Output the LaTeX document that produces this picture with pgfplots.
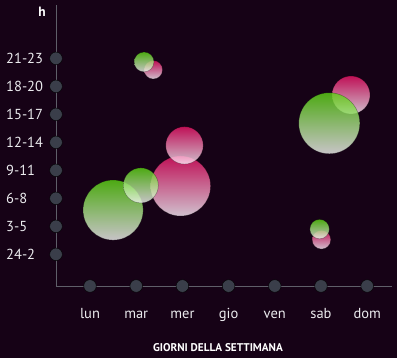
\documentclass[border=0pt]{standalone}
\usepackage{pgfplots}
\usepackage{pgfplotstable}
\pgfplotsset{compat=1.18}
\usepackage{fontspec}
\setmainfont{PT Sans}
\definecolor{bg}{RGB}{22,2,22}
\definecolor{axc}{RGB}{95,95,105}
\definecolor{dotc}{RGB}{58,62,74}
\definecolor{gtop}{RGB}{92,212,20}
\definecolor{gbot}{RGB}{244,245,244}
\definecolor{ptop}{RGB}{234,22,104}
\definecolor{pbot}{RGB}{255,240,252}
\definecolor{txt}{RGB}{235,235,238}
\pgfdeclareplotmark{empty}{}
\pgfplotstableread{
x y r
1.96 2.44 30
2.045 3.89 18.7
1.37 6.59 9.2
5.65 5.69 19
5.01 0.52 9.3
}\pinktab
\pgfplotstableread{
x y r
0.50 1.58 30
1.10 2.46 17.5
1.17 6.87 9.9
5.18 4.68 30.5
4.97 0.90 9.7
}\greentab
\begin{document}
\begin{tikzpicture}
\fill[bg] (0,0) rectangle (397pt,358pt);
\useasboundingbox (0,0) rectangle (397pt,358pt);
\begin{axis}[
  at={(56pt,72pt)}, anchor=south west,
  scale only axis, width=336pt, height=281pt,
  xmin=-0.736, xmax=6.537, ymin=-1.132, ymax=8.904,
  axis x line=bottom, axis y line=left,
  axis line style={-, draw=axc, line width=0.8pt},
  clip=false,
  xtick={0,...,6}, xticklabels={lun,mar,mer,gio,ven,sab,dom},
  ytick={0,...,7}, yticklabels={24-2,3-5,6-8,9-11,12-14,15-17,18-20,21-23},
  major tick length=0pt,
  tick style={draw=none},
  ticklabel style={font=\fontsize{14.5}{16}\selectfont, text=txt},
  yticklabel style={anchor=west, inner sep=0pt, xshift=-50pt},
  xticklabel style={anchor=base, inner sep=0pt, yshift=-33pt},
  xlabel={GIORNI DELLA SETTIMANA},
  xlabel style={at={(axis description cs:0.482,-0.2196)}, anchor=center, font=\bfseries\fontsize{11.2}{12}\selectfont, text=white},
  ylabel={h},
  ylabel style={rotate=-90, at={(axis description cs:-0.0417,0.975)}, anchor=center, font=\bfseries\fontsize{13.5}{14}\selectfont, text=white},
]
\addplot[only marks, mark=*, mark size=6.3pt, mark options={draw=none, fill=dotc}]
  coordinates {(0,-1.132)(1,-1.132)(2,-1.132)(3,-1.132)(4,-1.132)(5,-1.132)(6,-1.132)};
\addplot[only marks, mark=*, mark size=6.3pt, mark options={draw=none, fill=dotc}]
  coordinates {(-0.736,0)(-0.736,1)(-0.736,2)(-0.736,3)(-0.736,4)(-0.736,5)(-0.736,6)(-0.736,7)};
\addplot[scatter, only marks, mark=empty,
  visualization depends on={\thisrow{r} \as \rad},
  scatter/@pre marker code/.code={\path[top color=ptop, bottom color=pbot, fill opacity=0.8, draw=black, draw opacity=0.35, line width=0.5pt] (0pt,0pt) circle[radius=\rad pt];},
  scatter/@post marker code/.code={}]
  table {\pinktab};
\addplot[scatter, only marks, mark=empty,
  visualization depends on={\thisrow{r} \as \rad},
  scatter/@pre marker code/.code={\path[top color=gtop, bottom color=gbot, fill opacity=0.8, draw=black, draw opacity=0.35, line width=0.5pt] (0pt,0pt) circle[radius=\rad pt];},
  scatter/@post marker code/.code={}]
  table {\greentab};
\end{axis}
\end{tikzpicture}
\end{document}
